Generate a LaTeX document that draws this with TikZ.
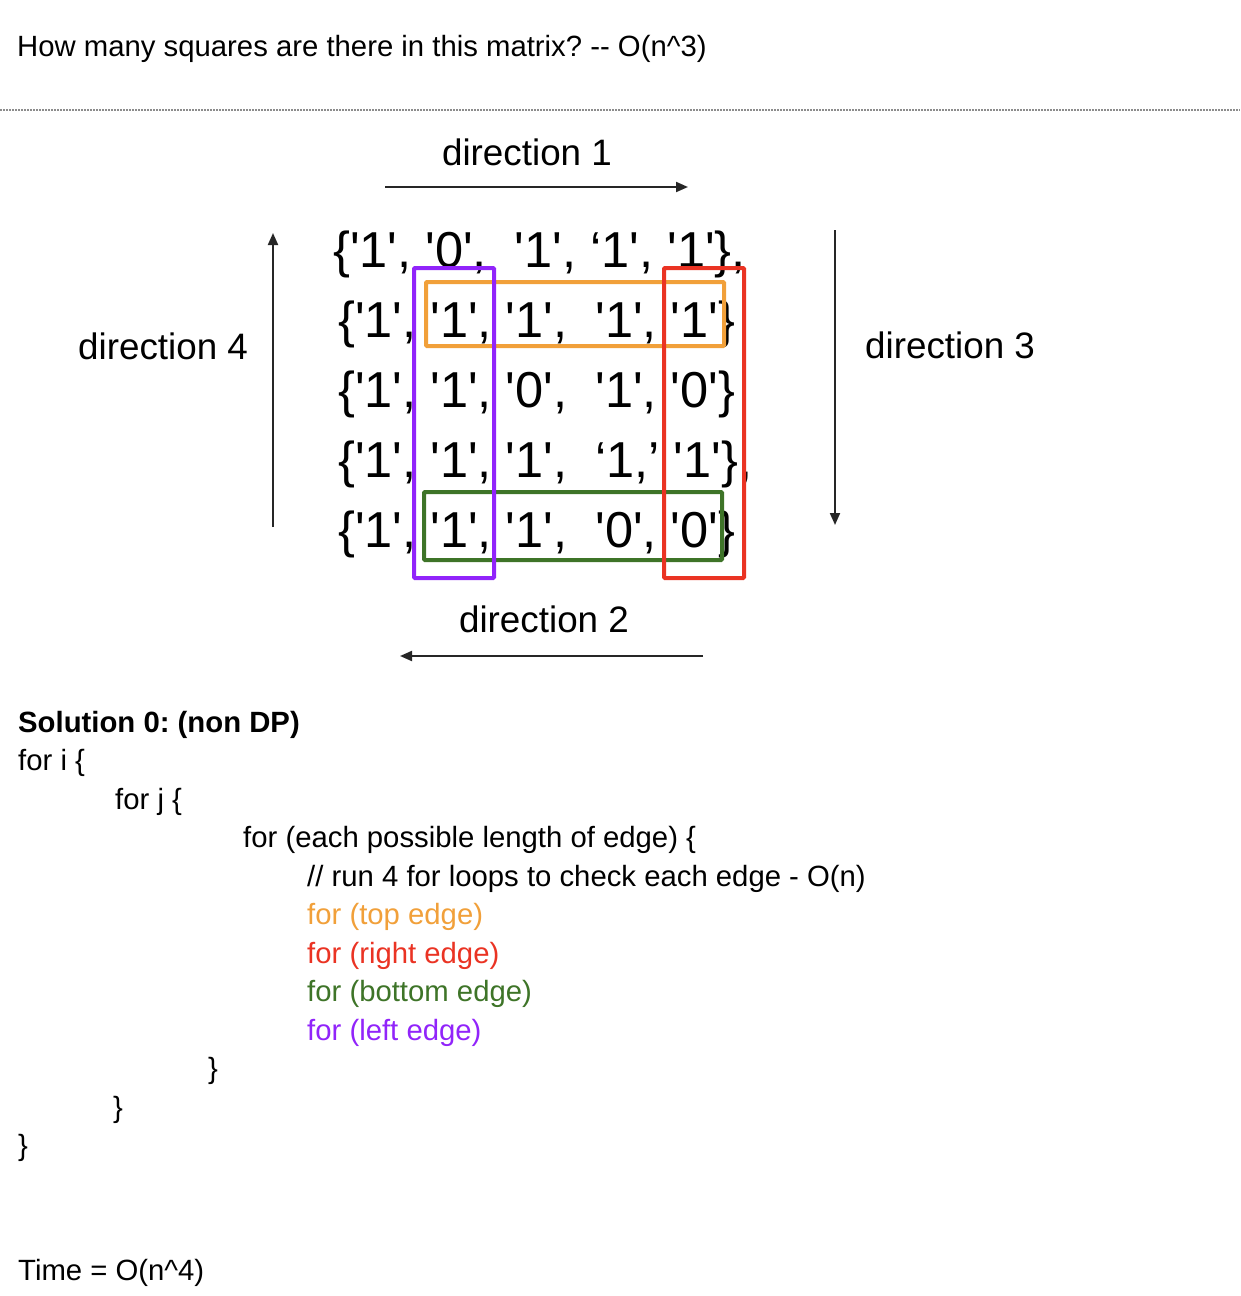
\documentclass[tikz,border=0pt]{standalone}
\usepackage{fontspec}
\setmainfont{Liberation Sans}[Ligatures=TeXOff]
\usetikzlibrary{arrows.meta}
\frenchspacing
\definecolor{cOrange}{HTML}{F1A03A}
\definecolor{cRed}{HTML}{EA3323}
\definecolor{cGreen}{HTML}{3E7428}
\definecolor{cPurple}{HTML}{9124FA}
\tikzset{
  body/.style={anchor=base west, inner sep=0pt, font=\fontsize{29.3}{35}\selectfont},
  bodybold/.style={anchor=base west, inner sep=0pt, font=\fontsize{29.3}{35}\selectfont\bfseries},
  dirlabel/.style={inner sep=0pt, font=\fontsize{36.8}{44}\selectfont},
  mrow/.style={anchor=base west, inner sep=0pt, font=\fontsize{50.5}{60}\selectfont},
  dirarrow/.style={line width=2pt, draw=black!85, -{Triangle[length=12pt,width=10pt]}},
  hlbox/.style={draw, line width=4pt, rounded corners=1pt, inner sep=0pt, fill=none},
}
\begin{document}
\begin{tikzpicture}[x=1pt,y=-1pt]
\useasboundingbox (0,0) rectangle (1240,1296);
% title
\node[body] (title) at (17,56) {How many squares are there in this matrix? -- O(n\textasciicircum 3)};
\draw[black!45, line width=1.5pt, dash pattern=on 1.5pt off 1.5pt] (0,110) -- (1240,110);
% direction labels
\node[dirlabel, anchor=base] (d1) at (527,165) {direction 1};
\node[dirlabel, anchor=base] (d2) at (544,632) {direction 2};
\node[dirlabel, anchor=base west] (d3) at (865,358) {direction 3};
\node[dirlabel, anchor=base west] (d4) at (78,359) {direction 4};
% arrows
\coordinate (a1s) at (385,187); \coordinate (a1e) at (688,187);
\coordinate (a2s) at (703,656); \coordinate (a2e) at (400,656);
\coordinate (a3s) at (835,230); \coordinate (a3e) at (835,525);
\coordinate (a4s) at (273,527); \coordinate (a4e) at (273,233);
\draw[dirarrow] (a1s) -- (a1e);
\draw[dirarrow] (a2s) -- (a2e);
\draw[dirarrow] (a3s) -- (a3e);
\draw[dirarrow] (a4s) -- (a4e);
% matrix rows
\node[mrow] (r1) at (333,267) {\{'1', '0', \ '1', ‘1', '1'\},};
\node[mrow] (r2) at (338,337) {\{'1', '1', '1', \ '1', '1'\}};
\node[mrow] (r3) at (338,407) {\{'1', '1', '0', \ '1', '0'\}};
\node[mrow] (r4) at (338,477) {\{'1', '1', '1', \ ‘1,’ '1'\},};
\node[mrow] (r5) at (338,547) {\{'1', '1', '1', \ '0', '0'\}};
% highlight boxes
\node[hlbox, draw=cOrange, minimum width=298pt, minimum height=64pt] (topedge) at (575,314) {};
\node[hlbox, draw=cGreen, minimum width=298pt, minimum height=68pt] (bottomedge) at (573,526) {};
\node[hlbox, draw=cPurple, minimum width=80pt, minimum height=310pt] (leftedge) at (454,423) {};
\node[hlbox, draw=cRed, minimum width=80pt, minimum height=310pt] (rightedge) at (704,423) {};
% code
\node[bodybold] (sol) at (18,732) {Solution 0: (non DP)};
\node[body] (fori) at (18,770.5) {for i \{};
\node[body] (forj) at (115,809) {for j \{};
\node[body] (fork) at (243,847.5) {for (each possible length of edge) \{};
\node[body] (cmt) at (307,886) {// run 4 for loops to check each edge - O(n)};
\node[body, text=cOrange] (ltop) at (307,924.5) {for (top edge)};
\node[body, text=cRed] (lright) at (307,963) {for (right edge)};
\node[body, text=cGreen] (lbottom) at (307,1001.5) {for (bottom edge)};
\node[body, text=cPurple] (lleft) at (307,1040) {for (left edge)};
\node[body] (c3) at (208,1078.5) {\}};
\node[body] (c2) at (113,1117) {\}};
\node[body] (c1) at (18,1155.5) {\}};
\node[body] (time) at (18,1280) {Time = O(n\textasciicircum 4)};
\end{tikzpicture}
\end{document}
